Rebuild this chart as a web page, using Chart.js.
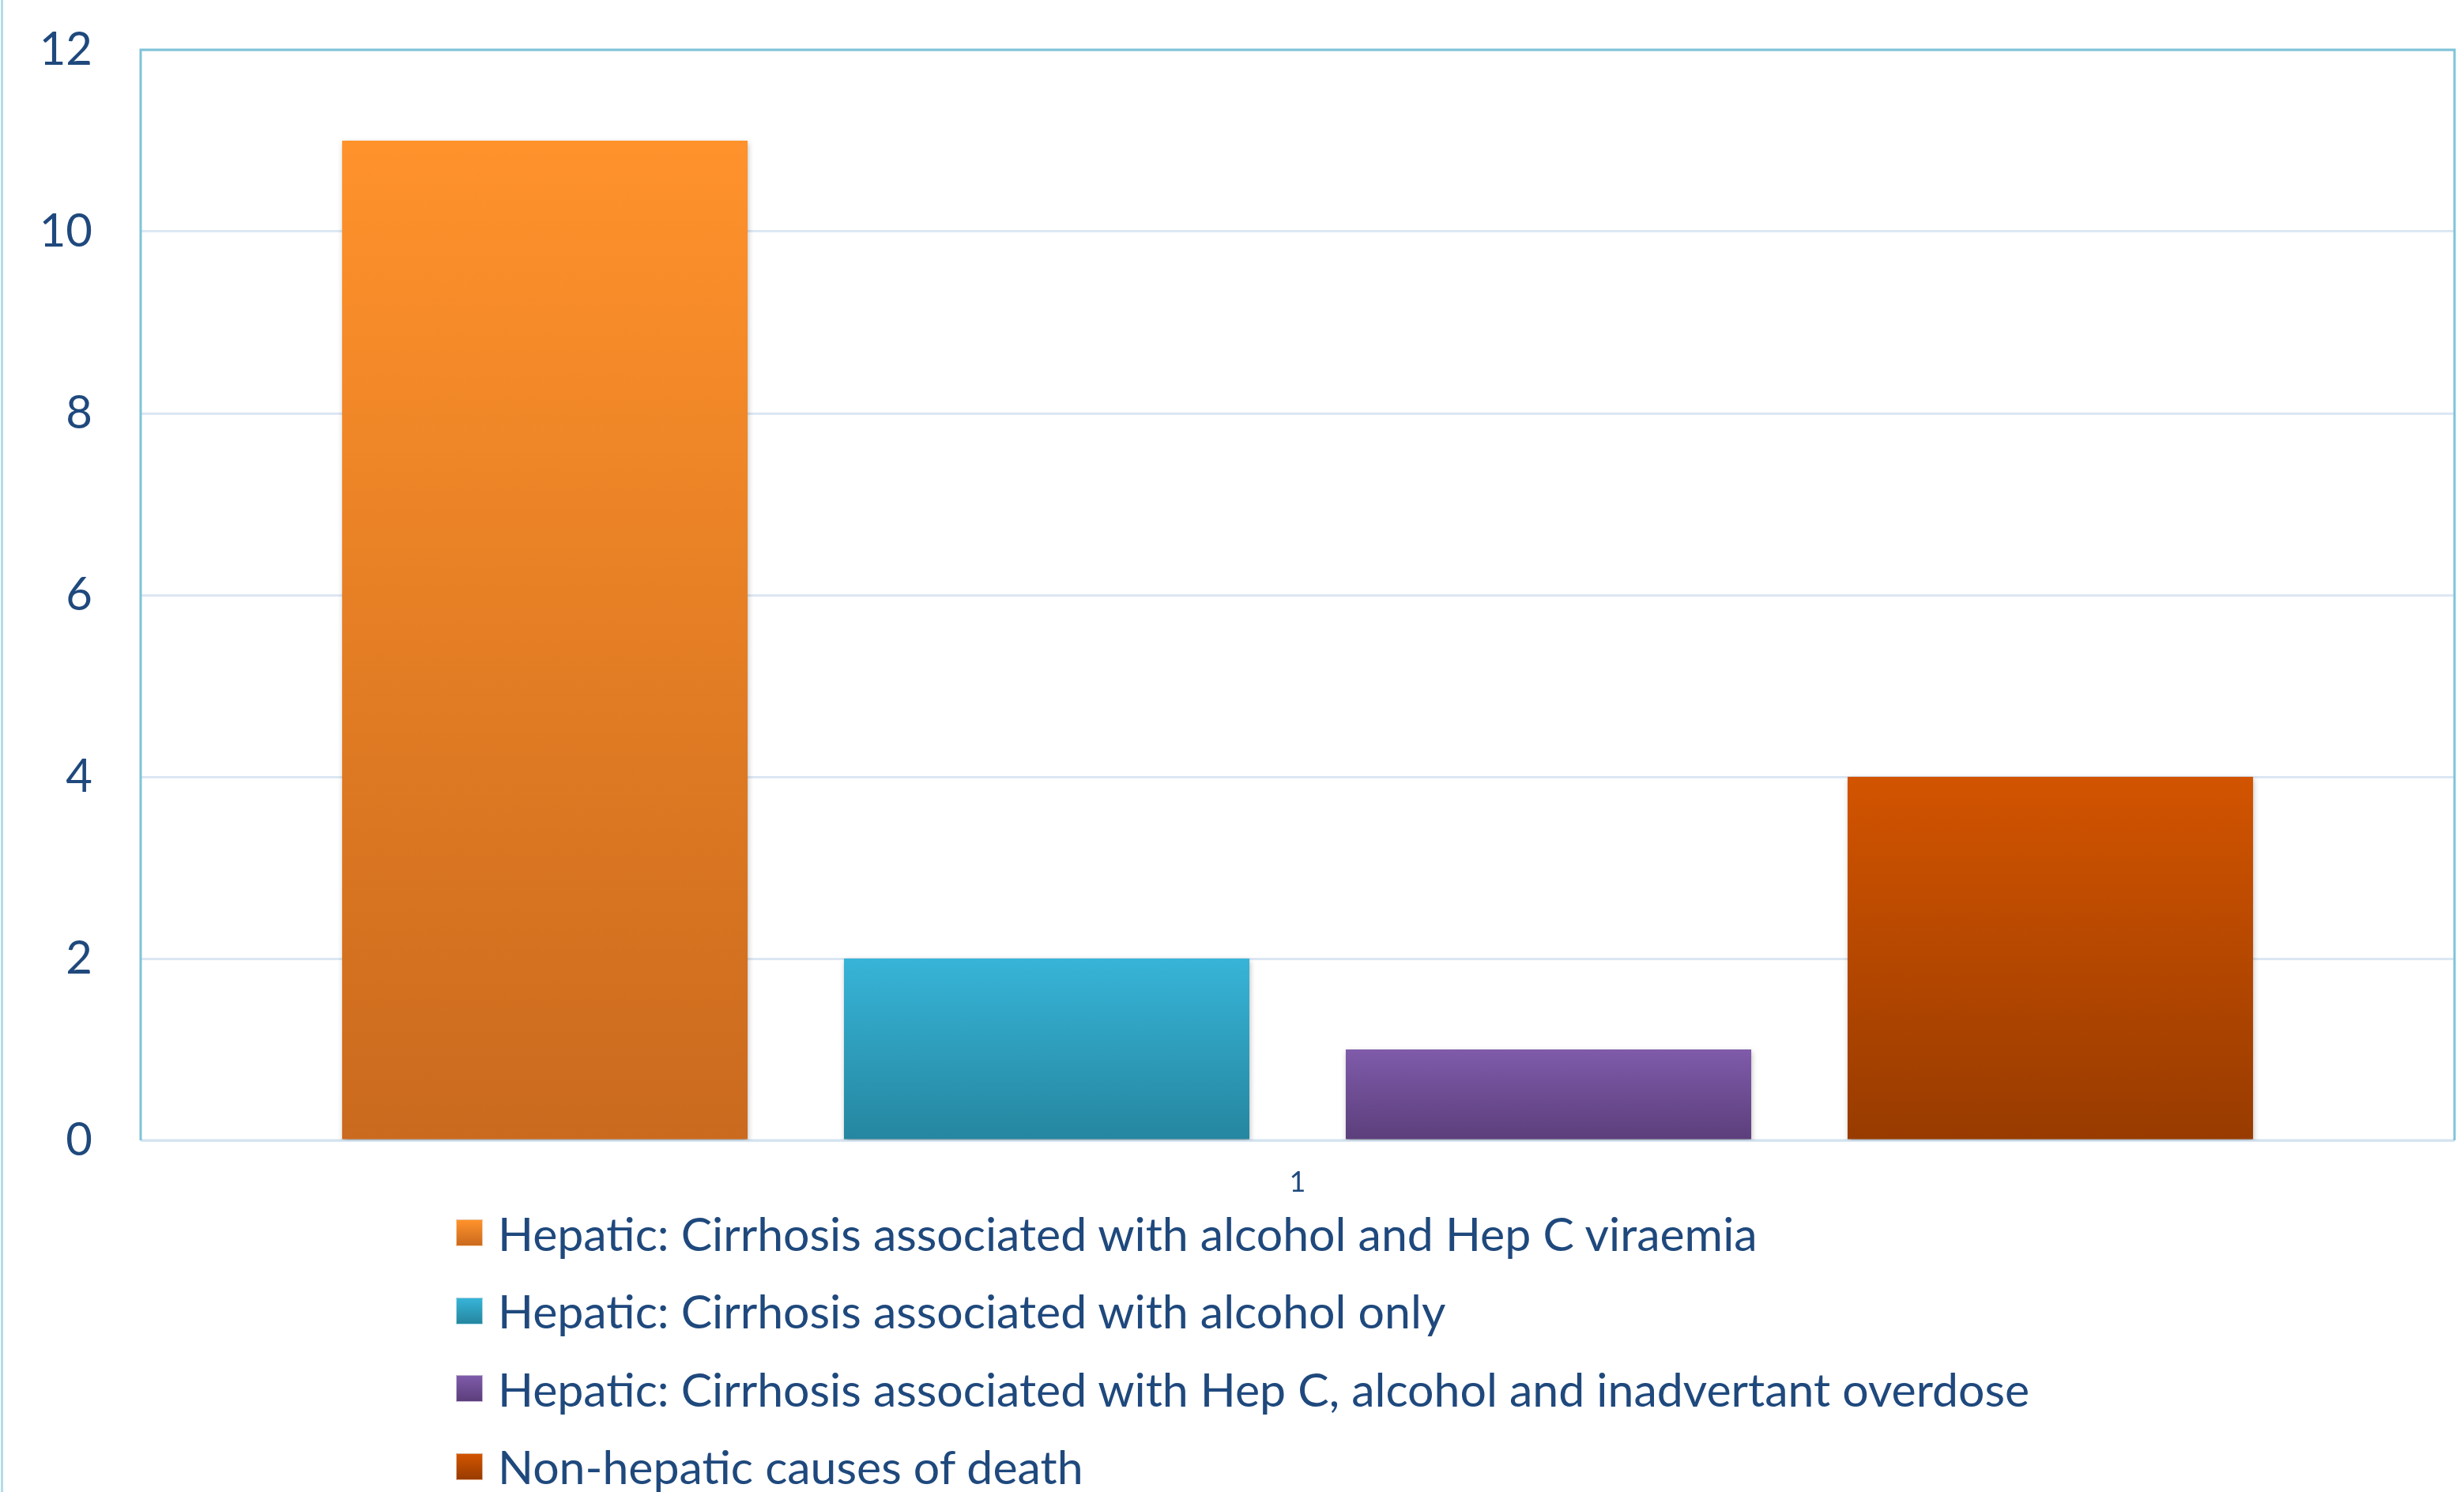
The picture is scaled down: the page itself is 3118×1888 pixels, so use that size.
<!DOCTYPE html>
<html>
<head>
<meta charset="utf-8">
<script src="https://cdn.jsdelivr.net/npm/chart.js@4.4.1/dist/chart.umd.min.js"></script>
<style>
  html, body { margin: 0; padding: 0; background: #fff; }
  #wrap { position: relative; width: 3118px; height: 1888px; overflow: hidden; }
  #edge { position: absolute; left: 1px; top: 0; width: 3px; height: 1888px; background: #b4dbe9; }
  #legend { position: absolute; left: 577px; top: 1511px; margin: 0; padding: 0; list-style: none;
            font-family: Lato, sans-serif; font-size: 59px; color: #1f497d; }
  #legend li { height: 98.5px; display: flex; align-items: center; white-space: nowrap; }
  #legend .box { width: 34px; height: 34px; margin-right: 19px; box-sizing: border-box;
                 border: 1px solid rgba(255,255,255,0.6); }
</style>
</head>
<body>
<div id="wrap">
  <canvas id="my-chart" width="3118" height="1888"></canvas>
  <div id="edge"></div>
  <ul id="legend"></ul>
</div>
<script>
'use strict';

// ***** DATA *****

let categories = ['1'];
let seriesLabels = [
  'Hepatic: Cirrhosis associated with alcohol and Hep C viraemia',
  'Hepatic: Cirrhosis associated with alcohol only',
  'Hepatic: Cirrhosis associated with Hep C, alcohol and inadvertant overdose',
  'Non-hepatic causes of death'
];
let seriesValues = [11, 2, 1, 4];
let yMin = 0;
let yMax = 12;
let yStep = 2;

// top / bottom colours of each bar's gradient
let gradTops = ['#ff922b', '#37b4d8', '#7f5baa', '#d25400'];
let gradBottoms = ['#ca6a1e', '#25869f', '#5c3e7b', '#983b00'];

let textColor = '#1f497d';

// ***** HELPERS *****

function barFill(i) {
  return function (context) {
    let chart = context.chart;
    if (!chart.chartArea || context.raw === undefined) {
      return gradTops[i];
    }
    let y = chart.scales.y;
    let yTop = y.getPixelForValue(context.raw);
    let yBase = y.getPixelForValue(0);
    let g = chart.ctx.createLinearGradient(0, yTop, 0, yBase);
    g.addColorStop(0, gradTops[i]);
    g.addColorStop(1, gradBottoms[i]);
    return g;
  };
}

let plotFrame = {
  id: 'plotFrame',
  beforeDatasetsDraw(chart) {
    let ctx = chart.ctx;
    let a = chart.chartArea;
    ctx.save();
    ctx.lineWidth = 3;
    ctx.strokeStyle = '#d3e4f1';
    ctx.beginPath();
    ctx.moveTo(a.left, a.bottom);
    ctx.lineTo(a.right, a.bottom);
    ctx.stroke();
    ctx.strokeStyle = '#7fc4d9';
    ctx.beginPath();
    ctx.moveTo(a.left, a.bottom);
    ctx.lineTo(a.left, a.top);
    ctx.lineTo(a.right, a.top);
    ctx.lineTo(a.right, a.bottom);
    ctx.stroke();
    ctx.restore();

    // soft shadow under the bars
    ctx.save();
    ctx.shadowColor = 'rgba(0,0,0,0.28)';
    ctx.shadowBlur = 7;
    ctx.shadowOffsetX = 1;
    ctx.shadowOffsetY = 3;
  },
  afterDatasetsDraw(chart) {
    chart.ctx.restore();
  }
};

// ***** CHART *****

let datasets = [];
for (let i = 0; i < seriesLabels.length; i++) {
  datasets.push({
    label: seriesLabels[i],
    data: [seriesValues[i]],
    backgroundColor: barFill(i),
    borderWidth: 0
  });
}

let ctx = document.getElementById('my-chart');

new Chart(ctx, {
  type: 'bar',
  data: {
    labels: categories,
    datasets: datasets
  },
  options: {
    responsive: false,
    animation: false,
    categoryPercentage: 0.8675,
    barPercentage: 0.808,
    layout: {
      padding: { top: 63, right: 12, bottom: 345, left: 0 }
    },
    plugins: {
      legend: { display: false },
      tooltip: { enabled: false }
    },
    scales: {
      x: {
        grid: { display: false, drawTicks: false },
        border: { display: false },
        ticks: { color: textColor, padding: 32, font: { family: 'Lato', size: 36 } },
        afterFit(scale) { scale.height = 100; }
      },
      y: {
        min: yMin,
        max: yMax,
        grid: { color: '#dce7f3', lineWidth: 3, drawTicks: false },
        border: { display: false },
        ticks: { stepSize: yStep, color: textColor, padding: 61, font: { family: 'Lato', size: 58 } },
        afterFit(scale) {
          scale.width = 178;
          scale.paddingTop = 0;
          scale.paddingBottom = 0;
        }
      }
    }
  },
  plugins: [plotFrame]
});

// ***** LEGEND *****

let legendList = document.getElementById('legend');
for (let i = 0; i < seriesLabels.length; i++) {
  let li = document.createElement('li');
  let box = document.createElement('span');
  box.className = 'box';
  box.style.background = `linear-gradient(${gradTops[i]}, ${gradBottoms[i]})`;
  let txt = document.createElement('span');
  txt.textContent = seriesLabels[i];
  li.appendChild(box);
  li.appendChild(txt);
  legendList.appendChild(li);
}
</script>
</body>
</html>
